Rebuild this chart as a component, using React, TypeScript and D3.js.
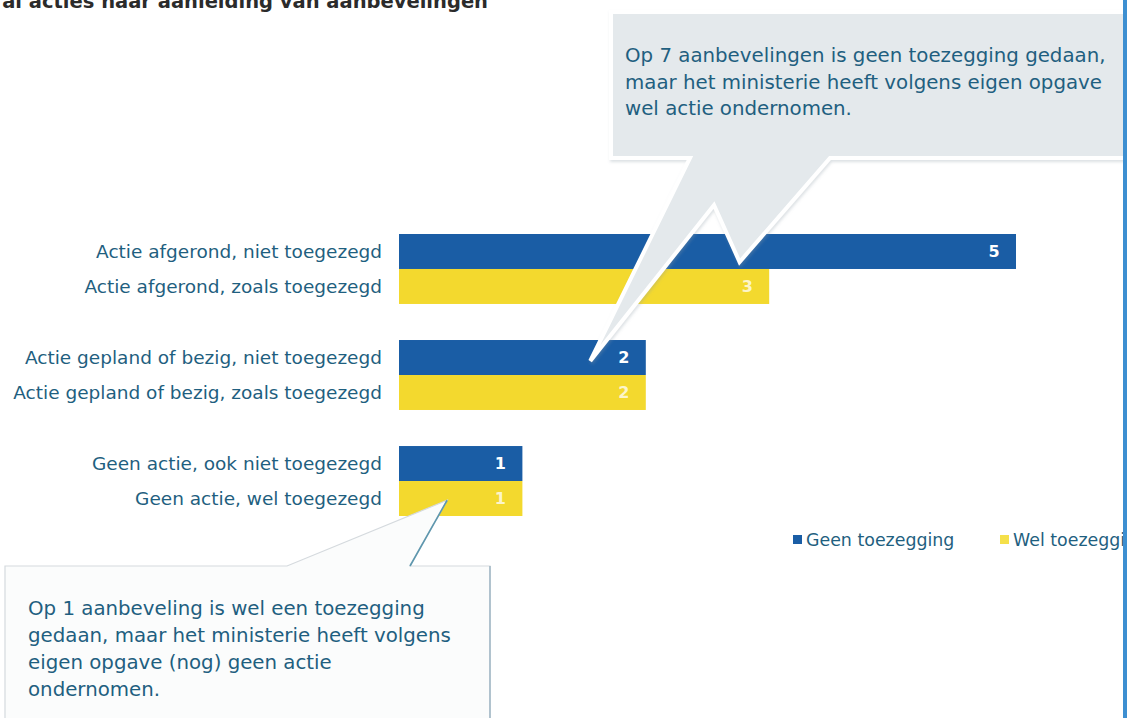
import React from "react";
import * as d3 from "d3";

// ---- data ----
const groups = ["Actie afgerond", "Actie gepland of bezig", "Geen actie"];
const seriesNames = ["Geen toezegging", "Wel toezegging"];
const geenLabels = [
  "Actie afgerond, niet toegezegd",
  "Actie gepland of bezig, niet toegezegd",
  "Geen actie, ook niet toegezegd",
];
const welLabels = [
  "Actie afgerond, zoals toegezegd",
  "Actie gepland of bezig, zoals toegezegd",
  "Geen actie, wel toegezegd",
];
const geenValues = [5, 2, 1];
const welValues = [3, 2, 1];
const titleText = "al acties naar aanleiding van aanbevelingen";
const calloutTop = [
  "Op 7 aanbevelingen is geen toezegging gedaan,",
  "maar het ministerie heeft volgens eigen opgave",
  "wel actie ondernomen.",
];
const calloutBottom = [
  "Op 1 aanbeveling is wel een toezegging",
  "gedaan, maar het ministerie heeft volgens",
  "eigen opgave (nog) geen actie",
  "ondernomen.",
];

const W = 1129;
const H = 718;
const FONT = "'DejaVu Sans', Verdana, sans-serif";
const BLUE = "#1a5da5";
const YELLOW = "#f3d92e";
const TEXT = "#1f5f80";

export default function App() {
  const x = d3.scaleLinear().domain([0, 5]).range([399, 1016]);
  const yGroup = d3.scaleBand<string>().domain(groups).range([234, 516]).paddingInner(0.34).paddingOuter(0);
  const ySeries = d3.scaleBand<string>().domain(seriesNames).range([0, yGroup.bandwidth()]).padding(0);
  const bh = ySeries.bandwidth();

  const rows = groups.flatMap((g, i) => [
    { g, s: seriesNames[0], label: geenLabels[i], v: geenValues[i], color: BLUE, txt: "#ffffff" },
    { g, s: seriesNames[1], label: welLabels[i], v: welValues[i], color: YELLOW, txt: "rgba(255,255,255,0.75)" },
  ]);

  const yOf = (g: string, s: string) => (yGroup(g) as number) + (ySeries(s) as number);

  // annotation anchors (data-space)
  const bigTip = [x(2.76), yOf(groups[0], seriesNames[0]) + bh * 0.8];
  const spikeTip = [x(1.55), yOf(groups[1], seriesNames[0]) + bh * 0.6];
  const botTip = [x(0.39), yOf(groups[2], seriesNames[1]) + bh * 0.55];

  const topPath = `M611,12 L1135,12 L1135,158 L830,158 L${bigTip[0]},${bigTip[1]} L714,205 L${spikeTip[0]},${spikeTip[1]} L690,158 L611,158 Z`;
  const botPath = `M5,566 L287,566 L${botTip[0]},${botTip[1]} L410,566 L490,566 L490,740 L5,740 Z`;

  return (
    <svg
      width={W}
      height={H}
      viewBox={`0 0 ${W} ${H}`}
      style={{ position: "absolute", left: 0, top: 0, display: "block", background: "#ffffff" }}
      fontFamily={FONT}
    >
      <defs>
        <filter id="shadow" x="-10%" y="-10%" width="120%" height="130%">
          <feDropShadow dx="1" dy="2" stdDeviation="1.5" floodColor="#8a9aa5" floodOpacity="0.3" />
        </filter>
        <clipPath id="clipRight">
          <rect x={0} y={0} width={1123} height={H} />
        </clipPath>
      </defs>
      <rect x={0} y={0} width={W} height={H} fill="#ffffff" />

      {/* title (cut at top, as in the scan) */}
      <text x={488} y={8} textAnchor="end" fontSize={19.5} fontWeight="bold" fill="#2b2b2b">
        {titleText}
      </text>

      {/* bars */}
      {rows.map((r, i) => {
        const y0 = yOf(r.g, r.s);
        return (
          <g key={i}>
            <rect x={x(0)} y={y0} width={x(r.v) - x(0)} height={bh} fill={r.color} />
            <text x={382} y={y0 + bh / 2} dy="0.35em" textAnchor="end" fontSize={18.5} fill={TEXT}>
              {r.label}
            </text>
            <text
              x={x(r.v) - 22}
              y={y0 + bh / 2}
              dy="0.36em"
              textAnchor="middle"
              fontSize={16}
              fontWeight="bold"
              fill={r.txt}
            >
              {r.v}
            </text>
          </g>
        );
      })}

      {/* top callout */}
      <g clipPath="url(#clipRight)">
        <path d={topPath} fill="#e4e9ec" stroke="#ffffff" strokeWidth={4} strokeLinejoin="miter" filter="url(#shadow)" />
        {calloutTop.map((t, i) => (
          <text key={i} x={625} y={62 + i * 26.5} fontSize={19.8} fill={TEXT}>
            {t}
          </text>
        ))}
      </g>

      {/* bottom callout */}
      <path d={botPath} fill="#fbfcfc" stroke="#d5dade" strokeWidth={1.2} />
      <line x1={botTip[0]} y1={botTip[1]} x2={410} y2={566} stroke="#5e97ae" strokeWidth={1.6} />
      <line x1={490} y1={566} x2={490} y2={H} stroke="#9fb6c4" strokeWidth={1.5} />
      {calloutBottom.map((t, i) => (
        <text key={i} x={28} y={615 + i * 27} fontSize={19.8} fill={TEXT}>
          {t}
        </text>
      ))}

      {/* legend */}
      <g clipPath="url(#clipRight)">
        {seriesNames.map((s, i) => {
          const lx = i === 0 ? 793 : 1000;
          return (
            <g key={s}>
              <rect x={lx} y={535} width={9} height={9} fill={i === 0 ? BLUE : "#f5e04a"} />
              <text x={lx + 13} y={546} fontSize={17.4} fill={TEXT}>
                {s}
              </text>
            </g>
          );
        })}
      </g>

      {/* right border line */}
      <rect x={1123} y={0} width={4} height={H} fill="#3d8fd1" />
    </svg>
  );
}
